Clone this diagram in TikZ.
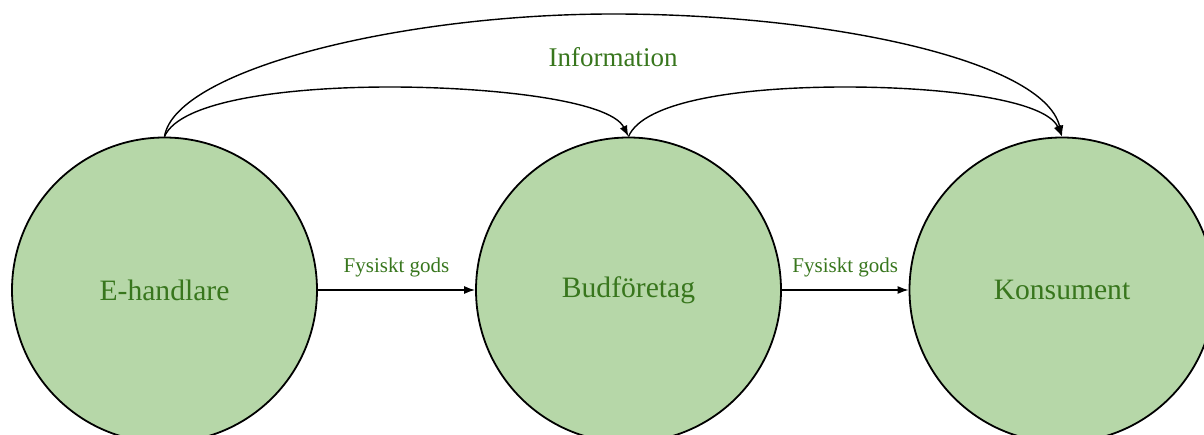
\documentclass[tikz,border=0pt]{standalone}
\usepackage{fontspec}
\setmainfont{Liberation Serif}
\usetikzlibrary{arrows.meta}
\definecolor{fillg}{HTML}{B6D7A8}
\definecolor{txtg}{HTML}{38761D}
\begin{document}
\begin{tikzpicture}[x=1pt,y=-1pt,
  ent/.style={circle,draw=black,line width=1.8pt,fill=fillg,minimum size=305pt,inner sep=0pt,
    text=txtg,font=\fontsize{29.6}{34}\selectfont},
  conn/.style={line width=1.4pt,-{Latex[length=11pt,width=8pt]}},
  lbl/.style={text=txtg,font=\fontsize{21}{24}\selectfont}]
\useasboundingbox (0,0) rectangle (1204,435);
\clip (0,0) rectangle (1204,435);
\node[ent] (eh) at (164.5,290) {E-handlare};
\node[ent] (bf) at (628.5,290) {Budföretag};
\node[ent] (ko) at (1062,290) {Konsument};
\draw[conn] (eh) -- node[lbl,yshift=23pt] {Fysiskt gods} (bf);
\draw[conn] (bf) -- node[lbl,yshift=23pt] {Fysiskt gods} (ko);
\draw[conn] (eh.north) .. controls (175,70) and (400,14) .. (613,14)
  .. controls (826,14) and (1044,60) .. (ko.north);
\draw[conn] (eh.north) .. controls (180,100) and (290,87) .. (390,87)
  .. controls (490,87) and (610,100) .. (bf.north);
\draw[conn] (bf.north) .. controls (644,100) and (745,87) .. (845,87)
  .. controls (945,87) and (1046,100) .. (ko.north);
\node[lbl,font=\fontsize{27}{30}\selectfont] (info) at (613,57) {Information};
\end{tikzpicture}
\end{document}
